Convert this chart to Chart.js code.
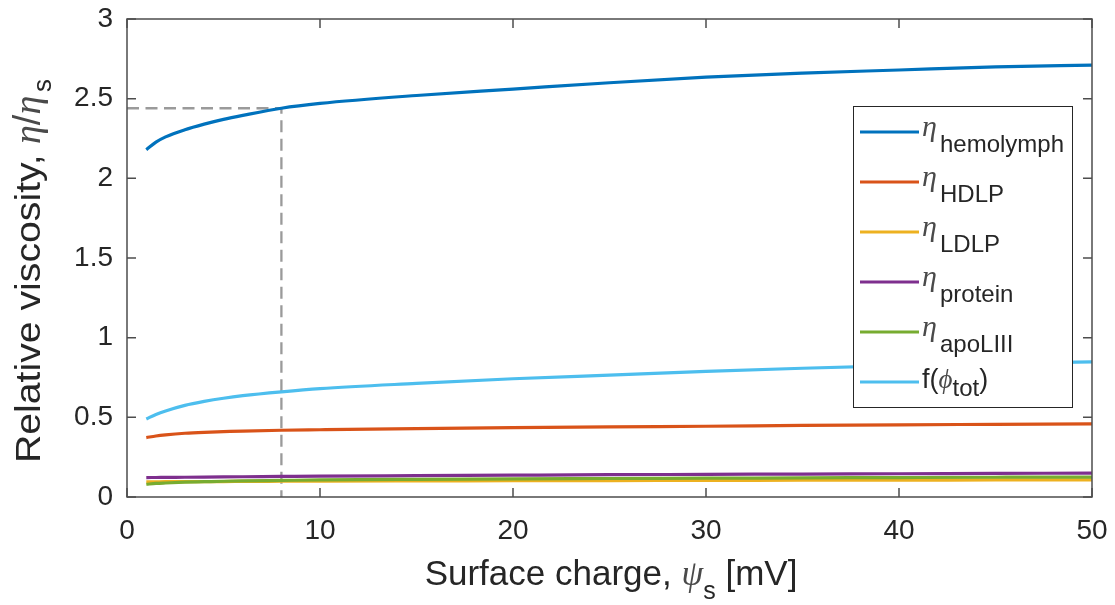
<!DOCTYPE html>
<html lang="en">
<head>
  <meta charset="UTF-8">
  <title>Relative viscosity vs surface charge</title>
  <script src="https://cdn.jsdelivr.net/npm/chart.js"></script>
  <style>
    html, body { margin: 0; padding: 0; background: #fff; }
    #wrap { width: 1115px; height: 605px; }
  </style>
</head>
<body>
  <div id="wrap"><canvas id="viscChart" width="1115" height="605"></canvas></div>
  <script>
    // surface charge psi_s [mV]
    const surfaceCharge = [1, 1.5, 2, 3, 4, 5, 6, 8, 10, 15, 20, 25, 30, 35, 40, 45, 50];

    const etaHemolymph = [2.18, 2.227, 2.26, 2.305, 2.34, 2.37, 2.395, 2.44, 2.47, 2.52, 2.56, 2.60, 2.635, 2.66, 2.68, 2.70, 2.71];
    const etaHDLP      = [0.373, 0.383, 0.39, 0.40, 0.406, 0.41, 0.414, 0.419, 0.422, 0.429, 0.435, 0.440, 0.444, 0.449, 0.453, 0.456, 0.459];
    const etaLDLP      = [0.095, 0.0955, 0.096, 0.096, 0.097, 0.097, 0.098, 0.099, 0.100, 0.101, 0.102, 0.103, 0.104, 0.105, 0.106, 0.107, 0.108];
    const etaProtein   = [0.122, 0.1225, 0.123, 0.124, 0.125, 0.126, 0.127, 0.129, 0.131, 0.134, 0.137, 0.140, 0.142, 0.144, 0.146, 0.148, 0.150];
    const etaApoLIII   = [0.080, 0.085, 0.088, 0.093, 0.096, 0.099, 0.101, 0.104, 0.107, 0.111, 0.114, 0.116, 0.118, 0.120, 0.122, 0.124, 0.125];
    const fPhiTot      = [0.49, 0.518, 0.54, 0.575, 0.60, 0.62, 0.636, 0.66, 0.68, 0.713, 0.742, 0.765, 0.788, 0.808, 0.825, 0.838, 0.848];

    // dashed guide at psi_s = 8 mV
    const guideX = [0, 8, 8];
    const guideY = [2.44, 2.44, 0];

    const xTicks = [0, 10, 20, 30, 40, 50];
    const yTicks = [0, 0.5, 1, 1.5, 2, 2.5, 3];

    const legendSubs = ['hemolymph', 'HDLP', 'LDLP', 'protein', 'apoLIII'];
    const colors = ['#0072BD', '#D95319', '#EDB120', '#7E2F8E', '#77AC30', '#4DBEEE'];

    const SANS = '"Liberation Sans", Arial, sans-serif';
    const SERIF = '"Liberation Serif", "Times New Roman", serif';
    const TEXT = '#262626';
    const GREEK = '#4a4a4a';

    function toPoints(xs, ys) {
      return xs.map((x, i) => ({ x: x, y: ys[i] }));
    }

    const allSeries = [etaHemolymph, etaHDLP, etaLDLP, etaProtein, etaApoLIII, fPhiTot];

    const datasets = allSeries.map((ys, i) => ({
      data: toPoints(surfaceCharge, ys),
      borderColor: colors[i],
      borderWidth: 3.2,
      pointRadius: 0,
      cubicInterpolationMode: 'monotone',
      order: 6 - i
    }));
    datasets.push({
      data: toPoints(guideX, guideY),
      borderColor: '#9a9a9a',
      borderWidth: 2.3,
      borderDash: [12, 6.5],
      pointRadius: 0,
      tension: 0,
      order: 10
    });

    // draw a run of text pieces [text, font, dy, color] along one baseline
    function drawRich(ctx, segs, x, y, centered) {
      ctx.textAlign = 'left';
      ctx.textBaseline = 'alphabetic';
      let total = 0;
      segs.forEach(s => { ctx.font = s[1]; total += ctx.measureText(s[0]).width; });
      let cx = centered ? x - total / 2 : x;
      segs.forEach(s => {
        ctx.font = s[1];
        ctx.fillStyle = s[3] || TEXT;
        ctx.fillText(s[0], cx, y + (s[2] || 0));
        cx += ctx.measureText(s[0]).width;
      });
    }

    const matlabAxes = {
      id: 'matlabAxes',
      afterDatasetsDraw(chart) {
        const ctx = chart.ctx;
        const a = chart.chartArea;
        const xs = chart.scales.x, ys = chart.scales.y;
        const tl = 9;
        ctx.save();
        ctx.strokeStyle = '#4d4d4d';
        ctx.lineWidth = 1.5;
        ctx.strokeRect(a.left, a.top, a.right - a.left, a.bottom - a.top);
        ctx.beginPath();
        xTicks.forEach(v => {
          const px = xs.getPixelForValue(v);
          ctx.moveTo(px, a.bottom); ctx.lineTo(px, a.bottom - tl);
          ctx.moveTo(px, a.top); ctx.lineTo(px, a.top + tl);
        });
        yTicks.forEach(v => {
          const py = ys.getPixelForValue(v);
          ctx.moveTo(a.left, py); ctx.lineTo(a.left + tl, py);
          ctx.moveTo(a.right, py); ctx.lineTo(a.right - tl, py);
        });
        ctx.stroke();
        ctx.restore();
      },
      afterDraw(chart) {
        const ctx = chart.ctx;
        ctx.save();

        // x title
        drawRich(ctx, [
          ['Surface charge, ', '35px ' + SANS],
          ['\u03C8', 'italic 35px ' + SERIF, 0, GREEK],
          ['s', '25px ' + SANS, 14],
          [' [mV]', '35px ' + SANS]
        ], 611, 585, true);

        // y title, read bottom to top
        ctx.save();
        ctx.translate(40, 463);
        ctx.rotate(-Math.PI / 2);
        ctx.save();
        ctx.scale(1.12, 1);
        drawRich(ctx, [['Relative viscosity,', '35px ' + SANS]], 0, 0, false);
        ctx.restore();
        drawRich(ctx, [
          ['\u03B7', 'italic 38px ' + SERIF, 0, GREEK],
          ['/', '38px ' + SANS, 0, GREEK],
          ['\u03B7', 'italic 38px ' + SERIF, 0, GREEK]
        ], 319, 0, false);
        drawRich(ctx, [['s', '26px ' + SANS, 11]], 371, 0, false);
        ctx.restore();

        // legend
        const bx = 853.5, by = 106.5, bw = 219, bh = 301;
        ctx.fillStyle = '#fff';
        ctx.fillRect(bx, by, bw, bh);
        ctx.strokeStyle = TEXT;
        ctx.lineWidth = 1;
        ctx.strokeRect(bx, by, bw, bh);

        for (let i = 0; i < 6; i++) {
          const ly = 132 + 50 * i;
          ctx.strokeStyle = colors[i];
          ctx.lineWidth = 3.2;
          ctx.beginPath();
          ctx.moveTo(860, ly);
          ctx.lineTo(919, ly);
          ctx.stroke();
        }
        ctx.textAlign = 'left';
        ctx.textBaseline = 'alphabetic';
        legendSubs.forEach((sub, i) => {
          ctx.fillStyle = GREEK;
          ctx.font = 'italic 30px ' + SERIF;
          ctx.fillText('\u03B7', 922, 136 + 50 * i);
          ctx.fillStyle = TEXT;
          ctx.font = '24px ' + SANS;
          ctx.fillText(sub, 940, 152 + 50 * i);
        });
        drawRich(ctx, [
          ['f(', '27px ' + SANS],
          ['\u03D5', 'italic 27px ' + SERIF, 0, GREEK],
          ['tot', '24px ' + SANS, 8],
          [')', '27px ' + SANS]
        ], 922, 388, false);

        ctx.restore();
      }
    };

    function noScalePadding(s) {
      s.paddingTop = 0;
      s.paddingBottom = 0;
      s.paddingLeft = 0;
      s.paddingRight = 0;
    }

    new Chart(document.getElementById('viscChart').getContext('2d'), {
      type: 'line',
      data: { datasets: datasets },
      options: {
        responsive: false,
        animation: false,
        layout: { padding: { top: 19, right: 23, left: 0, bottom: 0 } },
        plugins: { legend: { display: false }, tooltip: { enabled: false } },
        scales: {
          x: {
            type: 'linear',
            min: 0,
            max: 50,
            afterBuildTicks: s => { s.ticks = xTicks.map(v => ({ value: v })); },
            afterFit: s => { s.height = 108; noScalePadding(s); },
            grid: { drawOnChartArea: false, drawTicks: false },
            border: { display: false },
            ticks: { font: { family: SANS, size: 28 }, color: TEXT, padding: 17, maxRotation: 0 }
          },
          y: {
            type: 'linear',
            min: 0,
            max: 3,
            afterBuildTicks: s => { s.ticks = yTicks.map(v => ({ value: v })); },
            afterFit: s => { s.width = 127; noScalePadding(s); },
            grid: { drawOnChartArea: false, drawTicks: false },
            border: { display: false },
            ticks: { font: { family: SANS, size: 28 }, color: TEXT, padding: 14, callback: v => String(v) }
          }
        }
      },
      plugins: [matlabAxes]
    });
  </script>
</body>
</html>
